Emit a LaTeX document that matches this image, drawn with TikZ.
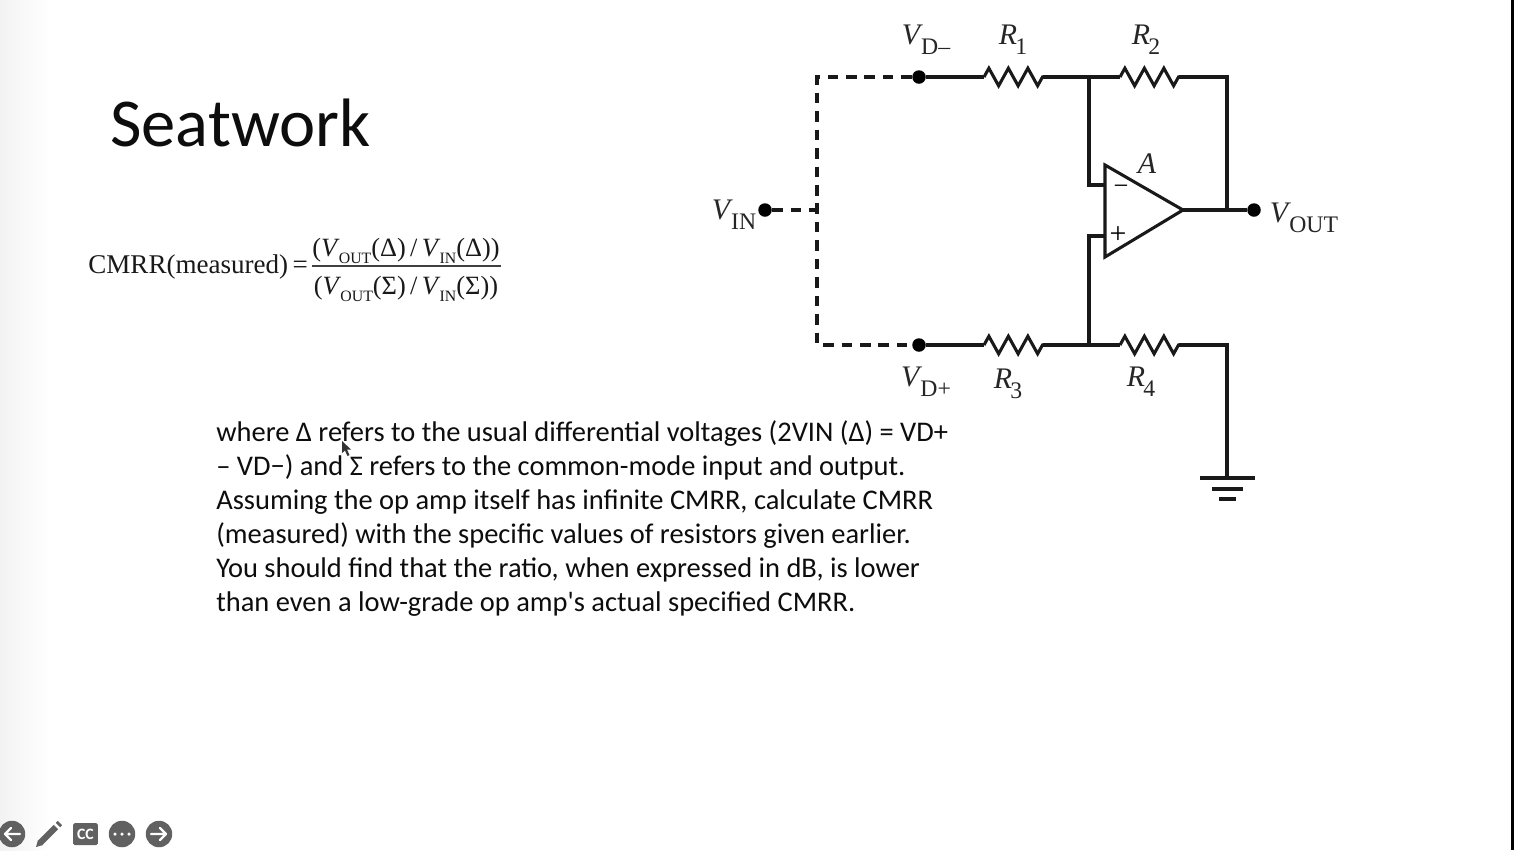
\documentclass[tikz,border=0pt]{standalone}
\usepackage{fontspec}
\setmainfont{Carlito}
\newfontfamily\circuitfont{Liberation Serif}
\usetikzlibrary{decorations.pathmorphing,arrows.meta}
\newcommand{\volt}[2]{\textit{#1}\kern-1pt\raisebox{-0.7ex}{\fontsize{13.5}{14}\selectfont #2}}
\newcommand{\eqvolt}[2]{\textit{#1}\kern-0.5pt\raisebox{-0.6ex}{\fontsize{9}{10}\selectfont #2}}
\begin{document}
\begin{tikzpicture}[
   x=0.02cm,y=-0.02cm,
   wire/.style={line width=1.75pt,black!90,line join=miter},
   dashwire/.style={wire,dash pattern=on 6pt off 4.5pt},
   zig/.style={decorate,decoration={zigzag,segment length=0.39cm,amplitude=5pt}},
   dotnode/.style={circle,fill=black,inner sep=0pt,minimum size=0.27cm},
   partlabel/.style={font=\circuitfont\fontsize{17}{20}\selectfont,inner sep=0pt,black!85},
   eqlabel/.style={font=\circuitfont\fontsize{15}{18}\selectfont,inner sep=0pt,black!90},
   barbutton/.style={circle,fill=black!62,inner sep=0pt,minimum size=0.53cm},
   barstroke/.style={white,line width=1.3pt,line cap=round,line join=round}]

\useasboundingbox (0,0) rectangle (1514,850);
\fill[white] (0,0) rectangle (1514,850);
\shade[left color=black!5,right color=white] (0,0) rectangle (50,850);
\fill[black] (1511,0) rectangle (1514,850);

\node[anchor=base west,inner sep=0pt,font=\fontsize{39}{44}\selectfont,black!95] (title) at (110,146) {Seatwork};

% measured ratio
\node[eqlabel,anchor=base west,font=\circuitfont\fontsize{15.4}{18}\selectfont] (cmrr) at (88,273) {CMRR(measured)\,=};
\node[eqlabel,anchor=base] (upper) at (406,256) {(\eqvolt{V}{OUT}(Δ)\,/\,\eqvolt{V}{IN}(Δ))};
\node[eqlabel,anchor=base] (lower) at (406,294) {(\eqvolt{V}{OUT}(Σ)\,/\,\eqvolt{V}{IN}(Σ))};
\coordinate (barL) at (312,266);
\coordinate (barR) at (501,266);
\draw[black!75,line width=1pt] (barL) -- (barR);

\node[anchor=north west,inner sep=0pt,align=left,black!95,
      font=\fontsize{16.2}{19.4}\selectfont] (para) at (216,420)
   {where Δ refers to the usual differential voltages (2VIN (Δ) = VD+\\
    – VD−) and Σ refers to the common-mode input and output.\\
    Assuming the op amp itself has infinite CMRR, calculate CMRR\\
    (measured) with the specific values of resistors given earlier.\\
    You should find that the ratio, when expressed in dB, is lower\\
    than even a low-grade op amp\textquotesingle s actual specified CMRR.};

% pointer
\fill[black!80] (342,441) -- (342,453) -- (345,450.5) -- (347.5,456) -- (349.5,455) -- (347,449.5) -- (351,449.5) -- cycle;

% circuit
\node[dotnode] (dminus) at (919,77) {};
\node[dotnode] (dplus) at (919,345) {};
\node[dotnode] (vin) at (765,210) {};
\node[dotnode] (vout) at (1254,210) {};
\coordinate (r1a) at (984,77);
\coordinate (r1b) at (1043,77);
\coordinate (r2a) at (1120,77);
\coordinate (r2b) at (1179,77);
\coordinate (r3a) at (984,345);
\coordinate (r3b) at (1043,345);
\coordinate (r4a) at (1120,345);
\coordinate (r4b) at (1179,345);
\coordinate (topmid) at (1089,77);
\coordinate (botmid) at (1089,345);
\coordinate (topright) at (1227,77);
\coordinate (botright) at (1227,345);
\coordinate (outjoin) at (1227,210);
\coordinate (gnd) at (1227,478);
\coordinate (ampT) at (1105,165);
\coordinate (ampB) at (1105,257);
\coordinate (ampO) at (1183,210);
\coordinate (inm) at (1105,185);
\coordinate (inp) at (1105,236);
\coordinate (dashT) at (817,77);
\coordinate (dashB) at (817,345);
\coordinate (dashM) at (817,210);

\draw[wire] (dminus) -- (r1a);
\draw[wire,zig] (r1a) -- (r1b);
\draw[wire] (r1b) -- (r2a);
\draw[wire,zig] (r2a) -- (r2b);
\draw[wire] (r2b) -- (topright) -- (outjoin);
\draw[wire] (dplus) -- (r3a);
\draw[wire,zig] (r3a) -- (r3b);
\draw[wire] (r3b) -- (r4a);
\draw[wire,zig] (r4a) -- (r4b);
\draw[wire] (r4b) -- (botright) -- (gnd);
\draw[wire] (topmid) |- (inm);
\draw[wire] (botmid) |- (inp);
\draw[wire] (ampT) -- (ampB) -- (ampO) -- cycle;
\draw[wire] (ampO) -- (vout);
\draw[dashwire] (dminus) -- (dashT) -- (dashB) -- (dplus);
\draw[dashwire] (vin) -- (dashM);

% ground bars
\coordinate (g1a) at (1200,478);
\coordinate (g1b) at (1255,478);
\coordinate (g2a) at (1212,489);
\coordinate (g2b) at (1243,489);
\coordinate (g3a) at (1219,499);
\coordinate (g3b) at (1236,499);
\draw[wire] (g1a) -- (g1b);
\draw[wire] (g2a) -- (g2b);
\draw[wire] (g3a) -- (g3b);

\node[font=\circuitfont\fontsize{15}{16}\selectfont,inner sep=0pt] (minus) at (1121,190) {−};
\node[font=\circuitfont\fontsize{17}{18}\selectfont,inner sep=0pt] (plus) at (1118,235) {+};

\node[partlabel] (lblA) at (1147,164) {\textit{A}};
\node[partlabel] (lblR1) at (1013,40) {\volt{R}{1}};
\node[partlabel] (lblR2) at (1146,40) {\volt{R}{2}};
\node[partlabel] (lblR3) at (1008,384) {\volt{R}{3}};
\node[partlabel] (lblR4) at (1141,382) {\volt{R}{4}};
\node[partlabel] (lblDm) at (926,40) {\volt{V}{D–}};
\node[partlabel] (lblDp) at (926,382) {\volt{V}{D+}};
\node[partlabel] (lblIn) at (734,215) {\volt{V}{IN}};
\node[partlabel] (lblOut) at (1304,218) {\volt{V}{OUT}};

% player buttons
\node[barbutton] (back) at (12,834) {};
\node[barbutton] (more) at (122,834) {};
\node[barbutton] (next) at (159,834) {};
\node[fill=black!62,rounded corners=1pt,minimum width=0.5cm,minimum height=0.44cm,inner sep=0pt,
      text=white,font=\bfseries\fontsize{9}{9}\selectfont] (cc) at (85.5,834) {CC};
\draw[barstroke] (20,834) -- (5,834) (11,828) -- (5,834) -- (11,840);
\draw[barstroke] (151,834) -- (166,834) (160,828) -- (166,834) -- (160,840);
\foreach \px in {115,122,129}
   \fill[white] (\px,834) circle (0.035cm);
\draw[black!62,line width=3.5pt] (40,843) -- (56,827);
\draw[black!62,line width=3.5pt] (58,825) -- (60,823);
\fill[black!62] (36,847) -- (38,840) -- (43,845) -- cycle;

\end{tikzpicture}
\end{document}
